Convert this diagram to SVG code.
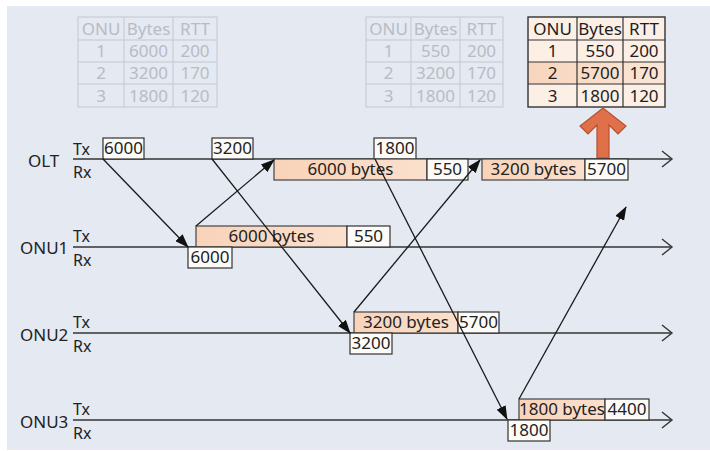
<svg xmlns="http://www.w3.org/2000/svg" width="710" height="451" viewBox="0 0 710 451">
<defs>
<linearGradient id="peach" x1="0" y1="0" x2="1" y2="0">
<stop offset="0" stop-color="#f8d3b9"/>
<stop offset="1" stop-color="#fbe0cd"/>
</linearGradient>
<linearGradient id="peachRow" x1="0" y1="0" x2="1" y2="0">
<stop offset="0" stop-color="#f8d5bd"/>
<stop offset="1" stop-color="#fae6d8"/>
</linearGradient>
<marker id="ah" markerWidth="14" markerHeight="10" refX="13" refY="5" orient="auto" markerUnits="userSpaceOnUse">
<path d="M0,0 L14,5 L0,10 Z" fill="#111"/>
</marker>
<style>
text{font-family:"Noto Sans","Open Sans","DejaVu Sans",sans-serif;fill:#222}
.lbl{font-size:17px}
.trx{font-size:16px}
.bx{font-size:17px}
.c{text-anchor:middle}
.wb{fill:#fdfbf8;stroke:#333;stroke-width:1.2}
.pb{fill:url(#peach);stroke:#444;stroke-width:1.2}
.tl{stroke:#333;stroke-width:1.6;fill:none}
.hd{stroke:#333;stroke-width:1.4;fill:none}
.cn{stroke:#1a1a1a;stroke-width:1.3;fill:none;marker-end:url(#ah)}
.ft line,.ft rect{stroke:#c4c8d0;stroke-width:1;fill:none}
.ft text{fill:#b8bcc5;font-size:17px;text-anchor:middle}
.ht rect.cell{fill:#fcefe6}
.ht line{stroke:#333;stroke-width:1.2}
.ht text{font-size:17px;text-anchor:middle;fill:#1e1e1e}
</style>
</defs>
<rect x="7" y="6" width="703" height="444" fill="#e4e9f2"/>

<g id="table1" class="ft">
<rect x="78" y="17" width="139" height="90"/>
<line x1="124" y1="17" x2="124" y2="107"/>
<line x1="173" y1="17" x2="173" y2="107"/>
<line x1="78" y1="40" x2="217" y2="40"/>
<line x1="78" y1="62" x2="217" y2="62"/>
<line x1="78" y1="84" x2="217" y2="84"/>
<text x="101" y="35">ONU</text><text x="148.5" y="35">Bytes</text><text x="195" y="35">RTT</text>
<text x="101" y="57">1</text><text x="148.5" y="57">6000</text><text x="195" y="57">200</text>
<text x="101" y="79">2</text><text x="148.5" y="79">3200</text><text x="195" y="79">170</text>
<text x="101" y="102">3</text><text x="148.5" y="102">1800</text><text x="195" y="102">120</text>
</g>

<g id="table2" class="ft">
<rect x="366" y="17" width="137" height="90"/>
<line x1="411" y1="17" x2="411" y2="107"/>
<line x1="460" y1="17" x2="460" y2="107"/>
<line x1="366" y1="40" x2="503" y2="40"/>
<line x1="366" y1="62" x2="503" y2="62"/>
<line x1="366" y1="84" x2="503" y2="84"/>
<text x="388.5" y="35">ONU</text><text x="435.5" y="35">Bytes</text><text x="481.5" y="35">RTT</text>
<text x="388.5" y="57">1</text><text x="435.5" y="57">550</text><text x="481.5" y="57">200</text>
<text x="388.5" y="79">2</text><text x="435.5" y="79">3200</text><text x="481.5" y="79">170</text>
<text x="388.5" y="102">3</text><text x="435.5" y="102">1800</text><text x="481.5" y="102">120</text>
</g>

<g id="table3" class="ht">
<rect class="cell" x="528" y="17" width="137" height="90"/>
<rect x="528" y="62" width="137" height="22" fill="url(#peachRow)"/>
<rect x="528" y="17" width="137" height="90" fill="none" stroke="#333" stroke-width="1.4"/>
<line x1="577" y1="17" x2="577" y2="107"/>
<line x1="623" y1="17" x2="623" y2="107"/>
<line x1="528" y1="40" x2="665" y2="40"/>
<line x1="528" y1="62" x2="665" y2="62"/>
<line x1="528" y1="84" x2="665" y2="84"/>
<text x="552.5" y="35">ONU</text><text x="600" y="35">Bytes</text><text x="644" y="35">RTT</text>
<text x="552.5" y="57">1</text><text x="600" y="57">550</text><text x="644" y="57">200</text>
<text x="552.5" y="79">2</text><text x="600" y="79">5700</text><text x="644" y="79">170</text>
<text x="552.5" y="102">3</text><text x="600" y="102">1800</text><text x="644" y="102">120</text>
</g>

<g id="update-arrow">
<polygon points="597,158 597,125 588,134 580,126 603,108 626,126 618,134 609,125 609,158" fill="#e0704a" stroke="#b5502f" stroke-width="1.2"/>
</g>

<g id="olt">
<line class="tl" x1="73" y1="159" x2="671" y2="159"/>
<polyline class="hd" points="662,151 672,159 662,167"/>
<text class="lbl" x="28" y="167">OLT</text>
<text class="trx" x="73" y="155">Tx</text>
<text class="trx" x="73" y="178">Rx</text>
<rect class="wb" x="103" y="138" width="41" height="21"/><text class="bx c" x="123.5" y="154">6000</text>
<rect class="wb" x="212" y="138" width="41" height="21"/><text class="bx c" x="232.5" y="154">3200</text>
<rect class="wb" x="374" y="138" width="42" height="21"/><text class="bx c" x="395" y="154">1800</text>
<rect class="pb" x="274" y="159" width="153" height="21"/><text class="bx c" x="350.5" y="175">6000 bytes</text>
<rect class="wb" x="427" y="159" width="41" height="21"/><text class="bx c" x="447.5" y="175">550</text>
<rect class="pb" x="482" y="159" width="103" height="21"/><text class="bx c" x="533.5" y="175">3200 bytes</text>
<rect class="wb" x="585" y="159" width="43" height="21"/><text class="bx c" x="606.5" y="175">5700</text>
</g>

<g id="onu1">
<line class="tl" x1="73" y1="247" x2="671" y2="247"/>
<polyline class="hd" points="662,239 672,247 662,255"/>
<text class="lbl" x="20" y="254">ONU1</text>
<text class="trx" x="73" y="242">Tx</text>
<text class="trx" x="73" y="266">Rx</text>
<rect class="pb" x="196" y="226" width="151" height="21"/><text class="bx c" x="271.5" y="242">6000 bytes</text>
<rect class="wb" x="347" y="226" width="43" height="21"/><text class="bx c" x="368.5" y="242">550</text>
<rect class="wb" x="188" y="247" width="44" height="21"/><text class="bx c" x="210" y="263">6000</text>
</g>

<g id="onu2">
<line class="tl" x1="73" y1="333" x2="671" y2="333"/>
<polyline class="hd" points="662,325 672,333 662,341"/>
<text class="lbl" x="20" y="341">ONU2</text>
<text class="trx" x="73" y="328">Tx</text>
<text class="trx" x="73" y="352">Rx</text>
<rect class="pb" x="354" y="312" width="104" height="21"/><text class="bx c" x="406" y="328">3200 bytes</text>
<rect class="wb" x="458" y="312" width="41" height="21"/><text class="bx c" x="478.5" y="328">5700</text>
<rect class="wb" x="350" y="333" width="42" height="21"/><text class="bx c" x="371" y="349">3200</text>
</g>

<g id="onu3">
<line class="tl" x1="73" y1="420" x2="671" y2="420"/>
<polyline class="hd" points="662,412 672,420 662,428"/>
<text class="lbl" x="20" y="428">ONU3</text>
<text class="trx" x="73" y="415">Tx</text>
<text class="trx" x="73" y="439">Rx</text>
<rect class="pb" x="519" y="399" width="86" height="21"/><text class="bx c" x="562" y="415">1800 bytes</text>
<rect class="wb" x="605" y="399" width="44" height="21"/><text class="bx c" x="627" y="415">4400</text>
<rect class="wb" x="508" y="420" width="42" height="21"/><text class="bx c" x="529" y="436">1800</text>
</g>

<g id="connectors">
<line class="cn" x1="103" y1="159" x2="188" y2="247"/>
<line class="cn" x1="196" y1="226" x2="274" y2="160"/>
<line class="cn" x1="212" y1="159" x2="350" y2="333"/>
<line class="cn" x1="354" y1="312" x2="480" y2="160"/>
<line class="cn" x1="375" y1="159" x2="507" y2="419"/>
<line class="cn" x1="519" y1="399" x2="626" y2="207"/>
</g>
</svg>
